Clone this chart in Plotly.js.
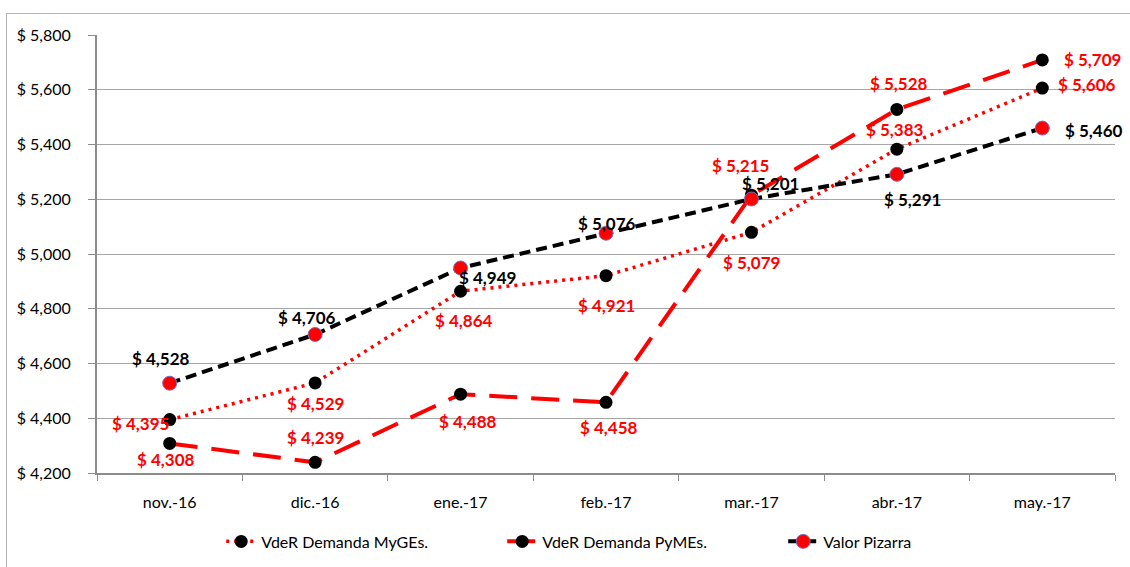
<!DOCTYPE html>
<html>
<head>
<meta charset="utf-8">
<script src="https://cdn.plot.ly/plotly-3.0.1.min.js"></script>
<style>
html,body{margin:0;padding:0;background:#fff;overflow:hidden;}
#frame{position:absolute;left:6px;top:13px;width:1200px;height:700px;border:1px solid #b5b5b5;}
#chart{position:absolute;left:0;top:0;width:1130px;height:567px;}
</style>
</head>
<body>
<div id="frame"></div>
<div id="chart"></div>
<script>
const categories = ["nov.-16","dic.-16","ene.-17","feb.-17","mar.-17","abr.-17","may.-17"];
const mygesValues = [4395, 4529, 4864, 4921, 5079, 5383, 5606];
const pymesValues = [4308, 4239, 4488, 4458, 5215, 5528, 5709];
const pizarraValues = [4528, 4706, 4949, 5076, 5201, 5291, 5460];
const seriesNames = ["VdeR Demanda MyGEs.", "VdeR Demanda PyMEs.", "Valor Pizarra"];

// label offsets in pixels [xshift, yshift]
const mygesLabelShift = [[-29,-4],[0,-21],[3,-29],[0,-30],[0,-30],[-2,20],[45,4]];
const pymesLabelShift = [[-4,-16],[0,25],[7,-27],[3,-25],[-11,30],[2,26],[50,0]];
const pizarraLabelShift = [[-9,25],[-8,17],[27,-10],[1,10],[19,15],[16,-25],[52,-2]];

const fontFam = "Lato, 'Open Sans', sans-serif";

const traces = [
  {
    x: categories, y: mygesValues, name: seriesNames[0], type: "scatter", mode: "lines+markers",
    line: {color: "#ff0000", width: 3.5, dash: "3px,5px"},
    marker: {color: "#000000", size: 13},
    cliponaxis: false
  },
  {
    x: categories, y: pymesValues, name: seriesNames[1], type: "scatter", mode: "lines+markers",
    line: {color: "#ff0000", width: 4, dash: "28px,14px"},
    marker: {color: "#000000", size: 13},
    cliponaxis: false
  },
  {
    x: categories, y: pizarraValues, name: seriesNames[2], type: "scatter", mode: "lines+markers",
    line: {color: "#000000", width: 4, dash: "11px,6px"},
    marker: {color: "#ff0000", size: 14, line: {color: "#7b6fb8", width: 1}},
    cliponaxis: false
  }
];

function fmt(v){ return "$ " + v.toLocaleString("en-US"); }

const annotations = [];
function addLabels(vals, shifts, color){
  vals.forEach((v,i)=>{
    annotations.push({
      x: categories[i], y: v, xref: "x", yref: "y",
      text: fmt(v), showarrow: false,
      xshift: shifts[i][0], yshift: shifts[i][1],
      font: {family: fontFam, size: 17, color: color, weight: "bold"}
    });
  });
}
addLabels(mygesValues, mygesLabelShift, "#ff0000");
addLabels(pymesValues, pymesLabelShift, "#ff0000");
addLabels(pizarraValues, pizarraLabelShift, "#000000");

const layout = {
  width: 1130, height: 567,
  margin: {l: 97, r: 15, t: 35, b: 94},
  paper_bgcolor: "rgba(0,0,0,0)", plot_bgcolor: "rgba(0,0,0,0)",
  font: {family: fontFam, size: 16, color: "#000"},
  showlegend: true,
  legend: {orientation: "h", x: 0.122, xanchor: "left", yref: "container", y: 0.075, yanchor: "top",
           font: {family: fontFam, size: 16, color: "#000"}, entrywidth: 236, entrywidthmode: "pixels"},
  xaxis: {
    type: "category", tickson: "boundaries", ticks: "outside", ticklen: 6, tickcolor: "#8c8c8c",
    showline: true, linecolor: "#8c8c8c", linewidth: 2, showgrid: false, zeroline: false,
    tickfont: {family: fontFam, size: 16, color: "#000"}, ticklabelstandoff: 14,
    range: [-0.5, 6.5], automargin: false
  },
  yaxis: {
    range: [4200, 5800], dtick: 200, tick0: 4200, tickprefix: "$ ", tickformat: ",d",
    ticks: "outside", ticklen: 7, tickcolor: "#8c8c8c",
    showline: true, linecolor: "#8c8c8c", linewidth: 2,
    showgrid: true, gridcolor: "#a6a6a6", gridwidth: 1, zeroline: false,
    tickfont: {family: fontFam, size: 16, color: "#000"}, ticklabelstandoff: 14, automargin: false
  },
  annotations: annotations
};

Plotly.newPlot("chart", traces, layout, {displayModeBar: false, staticPlot: true});
</script>
</body>
</html>
